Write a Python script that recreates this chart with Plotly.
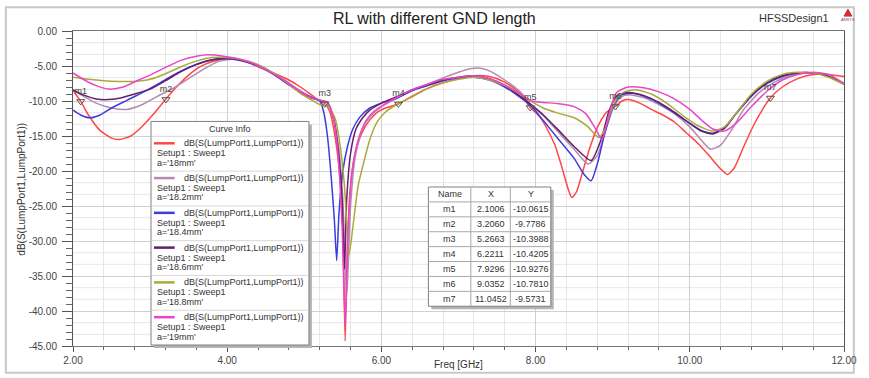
import plotly.graph_objects as go

# ---------------- data ----------------
curve_labels = ["a='18mm'", "a='18.2mm'", "a='18.4mm'", "a='18.6mm'", "a='18.8mm'", "a='19mm'"]
curve_colors = ["#ff4646", "#b48aae", "#3c3cdc", "#641e6e", "#aaaa3c", "#eb46c8"]

freq_18mm = [2.0, 2.1, 2.2, 2.35, 2.5, 2.6, 2.75, 2.9, 3.05, 3.2, 3.35, 3.5, 3.65, 3.8, 4.0, 4.2, 4.4, 4.6, 4.8, 4.95,
             5.1, 5.2, 5.27, 5.33, 5.39, 5.45, 5.5, 5.53, 5.56, 5.6, 5.66, 5.75, 5.85, 5.95, 6.05, 6.22, 6.4, 6.6, 6.8,
             7.0, 7.2, 7.4, 7.6, 7.8, 7.93, 8.05, 8.15, 8.25, 8.35, 8.42, 8.47, 8.53, 8.6, 8.7, 8.8, 8.92, 9.035, 9.12,
             9.2, 9.35, 9.5, 9.65, 9.8, 9.95, 10.1, 10.25, 10.4, 10.49, 10.58, 10.7, 10.85, 11.045, 11.2, 11.4, 11.6,
             11.8, 12.0]
rl_18mm = [-8.5, -10.06, -12.0, -14.2, -15.3, -15.5, -15.0, -13.6, -11.8, -9.78, -7.9, -6.3, -5.1, -4.4, -4.0, -4.2,
           -5.1, -6.0, -7.0, -8.0, -9.2, -10.0, -10.4, -11.5, -14.5, -19.5, -28.0, -44.3, -30.0, -22.0, -17.5, -14.5,
           -12.7, -11.6, -11.0, -10.42, -9.3, -8.2, -7.4, -6.8, -6.4, -6.5, -7.3, -8.9, -10.93, -12.2, -14.0, -16.3,
           -19.8, -22.5, -23.8, -23.0, -20.5, -16.8, -13.8, -11.6, -10.78, -10.0, -9.8, -10.3, -11.2, -12.0, -13.0,
           -14.5, -16.0, -17.8, -19.7, -20.5, -19.5, -16.5, -13.0, -9.57, -8.0, -6.8, -6.2, -6.2, -6.5]

freq_18_2mm = [2.0, 2.15, 2.3, 2.5, 2.7, 2.9, 3.1, 3.3, 3.5, 3.7, 3.9, 4.1, 4.3, 4.5, 4.7, 4.9, 5.05, 5.2, 5.3, 5.38,
               5.45, 5.5, 5.55, 5.6, 5.66, 5.75, 5.85, 6.0, 6.2, 6.4, 6.6, 6.8, 7.0, 7.15, 7.27, 7.4, 7.6, 7.8, 7.95,
               8.1, 8.3, 8.5, 8.68, 8.8, 8.9, 9.0, 9.1, 9.2, 9.4, 9.6, 9.8, 10.0, 10.15, 10.27, 10.4, 10.55, 10.7, 10.9,
               11.1, 11.3, 11.5, 11.7, 11.9, 12.0]
rl_18_2mm = [-8.4, -9.4, -10.3, -11.0, -11.2, -10.5, -9.3, -8.2, -6.8, -5.4, -4.3, -4.0, -4.5, -5.4, -6.7, -8.2, -9.2,
             -9.9, -10.3, -12.5, -17.0, -24.0, -38.0, -25.0, -18.0, -14.0, -12.3, -10.8, -9.6, -8.5, -7.6, -6.7, -5.9,
             -5.4, -5.3, -5.7, -7.0, -8.7, -10.6, -12.1, -14.5, -16.9, -19.0, -17.8, -14.5, -11.2, -9.5, -9.1, -9.5,
             -10.5, -11.8, -13.7, -15.6, -16.9, -16.3, -14.0, -11.2, -8.8, -7.3, -6.4, -6.0, -6.1, -6.9, -7.5]

freq_18_4mm = [2.0, 2.1, 2.22, 2.35, 2.5, 2.7, 2.9, 3.1, 3.3, 3.5, 3.7, 3.9, 4.05, 4.2, 4.4, 4.6, 4.8, 4.95, 5.1, 5.2,
               5.25, 5.3, 5.35, 5.39, 5.42, 5.45, 5.5, 5.56, 5.63, 5.72, 5.85, 6.0, 6.2, 6.4, 6.6, 6.8, 7.0, 7.2, 7.4,
               7.6, 7.8, 7.95, 8.1, 8.3, 8.5, 8.63, 8.72, 8.8, 8.9, 9.0, 9.1, 9.25, 9.4, 9.6, 9.8, 10.0, 10.15, 10.3,
               10.45, 10.6, 10.8, 11.0, 11.2, 11.4, 11.6, 11.8, 12.0]
rl_18_4mm = [-11.3, -12.0, -12.4, -12.0, -11.0, -9.9, -8.8, -7.6, -6.3, -5.2, -4.4, -4.0, -4.0, -4.3, -5.0, -6.2, -7.7,
             -8.8, -9.6, -10.0, -11.5, -15.0, -21.0, -27.0, -32.8, -26.0, -20.0, -16.5, -14.0, -12.3, -11.0, -10.3,
             -9.6, -8.5, -7.8, -7.1, -6.7, -6.6, -7.0, -8.0, -9.5, -10.8, -12.8, -15.5, -18.2, -20.5, -21.4, -19.0,
             -14.5, -11.0, -9.2, -8.9, -9.3, -10.3, -11.7, -13.2, -14.2, -14.6, -13.8, -11.8, -9.3, -7.5, -6.5, -6.0,
             -6.0, -6.5, -7.6]

freq_18_6mm = [2.0, 2.15, 2.3, 2.45, 2.6, 2.8, 3.0, 3.2, 3.4, 3.6, 3.8, 4.0, 4.2, 4.4, 4.6, 4.8, 4.95, 5.1, 5.2, 5.3,
               5.38, 5.44, 5.49, 5.52, 5.55, 5.6, 5.67, 5.75, 5.85, 6.0, 6.2, 6.4, 6.6, 6.8, 7.0, 7.2, 7.4, 7.6, 7.8,
               7.95, 8.1, 8.3, 8.5, 8.72, 8.85, 8.95, 9.05, 9.2, 9.4, 9.6, 9.8, 10.0, 10.15, 10.3, 10.45, 10.6, 10.8,
               11.0, 11.2, 11.4, 11.6, 11.8, 12.0]
rl_18_6mm = [-8.4, -9.2, -9.7, -9.8, -9.6, -9.0, -8.3, -7.1, -5.8, -4.8, -4.1, -3.9, -4.2, -4.9, -6.1, -7.6, -8.7, -9.5,
             -9.9, -10.2, -12.5, -17.0, -24.0, -34.0, -24.0, -17.5, -14.0, -12.5, -11.3, -10.3, -9.4, -8.4, -7.7, -7.0,
             -6.6, -6.4, -6.8, -7.8, -9.3, -10.6, -12.0, -14.2, -16.5, -18.5, -15.5, -11.5, -9.3, -8.8, -9.2, -10.2,
             -11.6, -13.2, -14.3, -14.7, -13.9, -11.8, -9.2, -7.4, -6.4, -6.0, -6.0, -6.5, -7.6]

freq_18_8mm = [2.0, 2.2, 2.4, 2.6, 2.8, 3.0, 3.2, 3.4, 3.6, 3.8, 4.0, 4.2, 4.4, 4.6, 4.8, 4.95, 5.1, 5.2, 5.3, 5.4,
               5.46, 5.52, 5.58, 5.63, 5.7, 5.77, 5.85, 5.94, 6.05, 6.2, 6.4, 6.6, 6.8, 7.0, 7.2, 7.4, 7.6, 7.8, 7.95,
               8.1, 8.28, 8.5, 8.67, 8.82, 8.9, 8.97, 9.06, 9.15, 9.3, 9.5, 9.7, 9.9, 10.1, 10.3, 10.45, 10.6, 10.8,
               11.0, 11.2, 11.4, 11.6, 11.8, 12.0]
rl_18_8mm = [-6.6, -6.9, -7.1, -7.2, -7.2, -6.9, -6.1, -5.1, -4.3, -3.8, -3.8, -4.1, -4.8, -6.0, -7.6, -8.9, -9.9,
             -10.5, -10.6, -12.5, -16.0, -22.0, -32.0, -28.0, -22.0, -18.8, -15.5, -13.1, -11.6, -10.5, -9.4, -8.2,
             -7.4, -6.9, -6.6, -7.0, -7.8, -9.0, -10.1, -11.0, -11.7, -12.4, -13.6, -15.2, -14.0, -11.7, -9.5, -8.7,
             -8.4, -9.0, -10.3, -12.0, -13.5, -14.3, -13.7, -11.8, -9.0, -7.2, -6.2, -5.9, -6.0, -6.6, -7.6]

freq_19mm = [2.0, 2.15, 2.3, 2.47, 2.65, 2.85, 3.0, 3.2, 3.4, 3.6, 3.76, 3.95, 4.15, 4.35, 4.55, 4.75, 4.9, 5.05, 5.2,
             5.3, 5.38, 5.44, 5.49, 5.53, 5.57, 5.62, 5.7, 5.8, 5.9, 6.05, 6.2, 6.4, 6.6, 6.8, 7.0, 7.2, 7.4, 7.6, 7.8,
             7.95, 8.1, 8.3, 8.5, 8.65, 8.78, 8.86, 8.95, 9.05, 9.2, 9.4, 9.6, 9.8, 10.0, 10.15, 10.3, 10.45, 10.6,
             10.8, 11.0, 11.2, 11.4, 11.6, 11.8, 12.0]
rl_19mm = [-6.0, -7.0, -7.8, -8.3, -8.0, -7.0, -6.3, -5.2, -4.2, -3.6, -3.4, -3.6, -4.0, -4.7, -5.8, -7.1, -8.3, -9.3,
           -9.9, -10.2, -12.5, -18.0, -28.0, -42.0, -28.0, -20.0, -15.5, -12.8, -11.5, -10.4, -9.5, -8.4, -7.6, -6.9,
           -6.6, -6.4, -6.8, -7.7, -9.0, -10.0, -10.2, -10.4, -10.8, -11.8, -14.0, -15.5, -12.0, -8.8, -8.0, -8.1,
           -8.7, -9.7, -11.2, -12.7, -14.0, -14.3, -13.2, -10.8, -8.6, -7.0, -6.2, -5.9, -6.2, -7.5]

marker_names = ["m1", "m2", "m3", "m4", "m5", "m6", "m7"]
marker_x = [2.1006, 3.2060, 5.2663, 6.2211, 7.9296, 9.0352, 11.0452]
marker_y = [-10.0615, -9.7786, -10.3988, -10.4205, -10.9276, -10.7810, -9.5731]

x_ticks = [2, 4, 6, 8, 10, 12]
y_ticks = [0, -5, -10, -15, -20, -25, -30, -35, -40, -45]

series = [(freq_18mm, rl_18mm), (freq_18_2mm, rl_18_2mm), (freq_18_4mm, rl_18_4mm),
          (freq_18_6mm, rl_18_6mm), (freq_18_8mm, rl_18_8mm), (freq_19mm, rl_19mm)]

# ---------------- geometry helpers (pixel -> paper) ----------------
W, H = 869, 378
L, R, T, B = 73, 854, 31, 348
FONT = "Liberation Sans, Arial, Helvetica, sans-serif"


def px(x):
    return (x - L) / (R - L)


def py(y):
    return (B - y) / (B - T)


fig = go.Figure()

for (fx, fy), col, lab in zip(series, curve_colors, curve_labels):
    fig.add_trace(go.Scatter(x=fx, y=fy, mode="lines", name=lab,
                             line=dict(color=col, width=1.5, shape="spline", smoothing=0.6),
                             hoverinfo="skip", showlegend=False))

fig.add_trace(go.Scatter(x=marker_x, y=marker_y, mode="markers+text", text=marker_names,
                         textposition="top center",
                         textfont=dict(size=9, color="#444", family=FONT),
                         marker=dict(symbol="triangle-down-open", size=7, color="#555",
                                     line=dict(width=1, color="#555")),
                         hoverinfo="skip", showlegend=False))

shapes = []
annotations = []

# horizontal minor gridlines every 5/3 dB
for k in range(1, 27):
    if k % 3 == 0:
        continue
    yv = -k * 5.0 / 3.0
    shapes.append(dict(type="line", xref="paper", yref="y", x0=0, x1=1, y0=yv, y1=yv,
                       line=dict(color="#e6e6e6", width=1), layer="below"))

# outer frame
shapes.append(dict(type="rect", xref="paper", yref="paper", x0=px(5), x1=px(864), y0=py(7), y1=py(375),
                   line=dict(color="#c8c8c8", width=2), fillcolor="rgba(0,0,0,0)", layer="below"))

# title, design name, logo
annotations.append(dict(text="RL with different GND length", x=px(439), y=py(18), xref="paper", yref="paper",
                        showarrow=False, xanchor="center", yanchor="middle",
                        font=dict(size=16, color="#222", family=FONT)))
annotations.append(dict(text="HFSSDesign1", x=px(803), y=py(18), xref="paper", yref="paper",
                        showarrow=False, xanchor="center", yanchor="middle",
                        font=dict(size=11, color="#333", family=FONT)))
shapes.append(dict(type="path", xref="paper", yref="paper",
                   path=f"M {px(854)} {py(16)} L {px(862)} {py(16)} L {px(858)} {py(9)} Z",
                   fillcolor="#d03030", line=dict(color="#d03030", width=1)))
annotations.append(dict(text="ANSYS", x=px(858), y=py(19.5), xref="paper", yref="paper", showarrow=False,
                        xanchor="center", yanchor="middle", font=dict(size=4, color="#555", family=FONT)))

# axis titles
annotations.append(dict(text="Freq [GHz]", x=px(463), y=py(367), xref="paper", yref="paper", showarrow=False,
                        xanchor="center", yanchor="middle", font=dict(size=10, color="#333", family=FONT)))
annotations.append(dict(text="dB(S(LumpPort1,LumpPort1))", x=px(21), y=py(190), xref="paper", yref="paper",
                        showarrow=False, textangle=-90, xanchor="center", yanchor="middle",
                        font=dict(size=10, color="#333", family=FONT)))

# ---------------- Curve Info box ----------------
bx0, bx1, by0, by1 = 152, 312, 122, 347
shapes.append(dict(type="rect", xref="paper", yref="paper", x0=px(bx0 + 3), x1=px(bx1 + 3), y0=py(by0 + 3),
                   y1=py(by1 + 3), fillcolor="#b4b4b4", line=dict(width=0)))
shapes.append(dict(type="rect", xref="paper", yref="paper", x0=px(bx0), x1=px(bx1), y0=py(by0), y1=py(by1),
                   fillcolor="white", line=dict(color="#808080", width=1)))
annotations.append(dict(text="Curve Info", x=px(232), y=py(130), xref="paper", yref="paper", showarrow=False,
                        xanchor="center", yanchor="middle", font=dict(size=9, color="#333", family=FONT)))
shapes.append(dict(type="line", xref="paper", yref="paper", x0=px(bx0 + 1), x1=px(bx1 - 1), y0=py(137),
                   y1=py(137), line=dict(color="#d8d8d8", width=1)))
for k, (col, lab) in enumerate(zip(curve_colors, curve_labels)):
    base = 137 + 35 * k
    shapes.append(dict(type="line", xref="paper", yref="paper", x0=px(155), x1=px(176), y0=py(base + 7),
                       y1=py(base + 7), line=dict(color=col, width=2.5)))
    annotations.append(dict(text="dB(S(LumpPort1,LumpPort1))", x=px(183), y=py(base + 7), xref="paper",
                            yref="paper", showarrow=False, xanchor="left", yanchor="middle",
                            font=dict(size=9, color="#333", family=FONT)))
    annotations.append(dict(text="Setup1 : Sweep1", x=px(156), y=py(base + 17), xref="paper", yref="paper",
                            showarrow=False, xanchor="left", yanchor="middle",
                            font=dict(size=9, color="#333", family=FONT)))
    annotations.append(dict(text=lab, x=px(156), y=py(base + 26.5), xref="paper", yref="paper",
                            showarrow=False, xanchor="left", yanchor="middle",
                            font=dict(size=9, color="#333", family=FONT)))
    if k < 5:
        shapes.append(dict(type="line", xref="paper", yref="paper", x0=px(bx0 + 1), x1=px(bx1 - 1),
                           y0=py(base + 35), y1=py(base + 35), line=dict(color="#d8d8d8", width=1)))

# ---------------- Marker table ----------------
tx = [433, 476, 516, 557]
ty0, rowh = 188, 15
ty1 = ty0 + rowh * (len(marker_names) + 1)
shapes.append(dict(type="rect", xref="paper", yref="paper", x0=px(tx[0] + 3), x1=px(tx[3] + 3), y0=py(ty0 + 3),
                   y1=py(ty1 + 3), fillcolor="#b4b4b4", line=dict(width=0)))
shapes.append(dict(type="rect", xref="paper", yref="paper", x0=px(tx[0]), x1=px(tx[3]), y0=py(ty0), y1=py(ty1),
                   fillcolor="white", line=dict(color="#808080", width=1)))
for i in range(1, len(marker_names) + 1):
    yy = ty0 + rowh * i
    shapes.append(dict(type="line", xref="paper", yref="paper", x0=px(tx[0]), x1=px(tx[3]), y0=py(yy), y1=py(yy),
                       line=dict(color="#a8a8a8", width=1)))
for xx in tx[1:3]:
    shapes.append(dict(type="line", xref="paper", yref="paper", x0=px(xx), x1=px(xx), y0=py(ty0), y1=py(ty1),
                       line=dict(color="#a8a8a8", width=1)))
cols_c = [(tx[0] + tx[1]) / 2, (tx[1] + tx[2]) / 2, (tx[2] + tx[3]) / 2]
rows = [["Name", "X", "Y"]] + [[n, f"{x:.4f}", f"{y:.4f}"] for n, x, y in zip(marker_names, marker_x, marker_y)]
for r, row in enumerate(rows):
    yc = ty0 + rowh * r + rowh / 2
    for c, txt in enumerate(row):
        annotations.append(dict(text=txt, x=px(cols_c[c]), y=py(yc), xref="paper", yref="paper",
                                showarrow=False, xanchor="center", yanchor="middle",
                                font=dict(size=9, color="#333", family=FONT)))

fig.update_layout(
    width=W, height=H,
    margin=dict(l=L, r=W - R, t=T, b=H - B, pad=0),
    paper_bgcolor="white", plot_bgcolor="white",
    font=dict(family=FONT, size=10, color="#333"),
    showlegend=False,
    shapes=shapes, annotations=annotations,
)
fig.update_xaxes(range=[2, 12], tickvals=x_ticks, ticktext=[f"{v:.2f}" for v in x_ticks],
                 showgrid=True, gridcolor="#d0d0d0", gridwidth=1,
                 ticks="outside", ticklen=5, tickcolor="#555",
                 showline=True, linecolor="#777", linewidth=1, mirror=True, zeroline=False,
                 minor=dict(dtick=0.4, tick0=2, showgrid=True, gridcolor="#e6e6e6", ticks="outside",
                            ticklen=3, tickcolor="#666"),
                 tickfont=dict(size=10, color="#444", family=FONT))
fig.update_yaxes(range=[-45, 0], tickvals=y_ticks, ticktext=[f"{v:.2f}" for v in y_ticks],
                 showgrid=True, gridcolor="#d0d0d0", gridwidth=1,
                 ticks="outside", ticklen=10, tickcolor="#555",
                 showline=True, linecolor="#555", linewidth=1, mirror=True, zeroline=False,
                 ticklabelstandoff=3,
                 minor=dict(dtick=1, tick0=0, showgrid=False, ticks="outside", ticklen=6, tickcolor="#666"),
                 tickfont=dict(size=10, color="#444", family=FONT))

fig.write_html("out.html")
